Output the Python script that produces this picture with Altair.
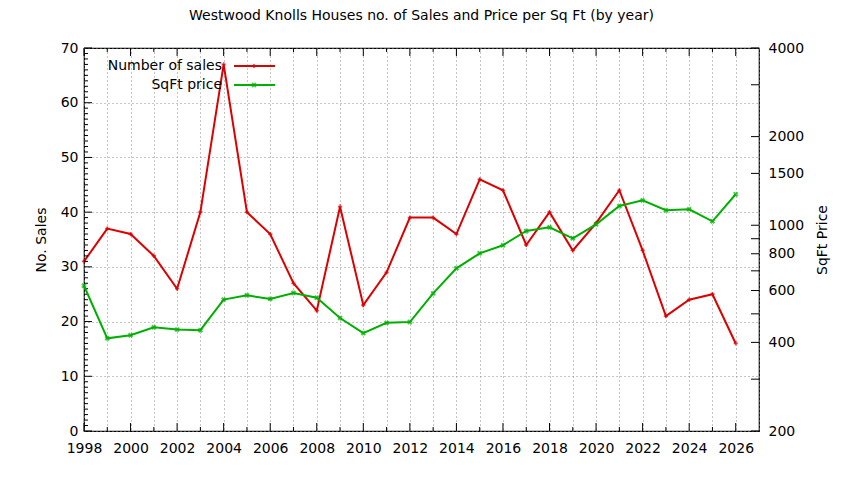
import altair as alt
import pandas as pd

# ---- data ----
years = list(range(1998, 2027))
sales = [31, 37, 36, 32, 26, 40, 67, 40, 36, 27, 22, 41, 23, 29, 39, 39, 36,
         46, 44, 34, 40, 33, 38, 44, 33, 21, 24, 25, 16]
price = [623, 413, 423, 450, 442, 440, 559, 578, 562, 589, 567, 484, 430, 466,
         469, 587, 714, 803, 855, 956, 984, 903, 1007, 1162, 1215, 1124, 1133,
         1031, 1274]
series_names = ["Number of sales", "SqFt price"]
title_text = "Westwood Knolls Houses no. of Sales and Price per Sq Ft (by year)"
x_domain = [1998, 2027]
left_domain = [0, 70]
right_domain = [200, 4000]
left_major = list(range(0, 71, 10))
left_minor = [v for v in range(0, 71) if v % 10 != 0]
x_major = list(range(1998, 2027, 2))
x_minor = list(range(1999, 2027, 2))
right_major = [200, 400, 600, 800, 1000, 1500, 2000, 4000]
right_minor = [300, 500, 700, 900, 3000]

df = pd.DataFrame({"year": years, "sales": sales, "price": price})

W, H = 675, 383
RED = "#dd0000"
GREEN = "#00b000"
FONT = "DejaVu Sans"
FS = 14

xs = alt.Scale(domain=x_domain, nice=False, zero=False)
yl = alt.Scale(domain=left_domain, nice=False, zero=False)
yr = alt.Scale(type="log", domain=right_domain, nice=False)

x_axis = alt.Axis(
    values=list(range(x_domain[0], x_domain[1] + 1)),
    labelExpr="datum.value % 2 == 0 && datum.value <= 2026 ? datum.label : ''",
    format="d", grid=True, gridDash=[1, 3], gridColor="#8c8c8c",
    ticks=False, domain=False, labelPadding=10, title=None,
    labelFlush=False, labelOverlap=False,
)
yl_axis = alt.Axis(
    values=left_major, grid=True, gridDash=[1, 3], gridColor="#8c8c8c",
    ticks=False, domain=False, labelPadding=6, title="No. Sales",
    titlePadding=12, labelOverlap=False,
)
yr_axis = alt.Axis(
    orient="right", values=right_major, format="d", grid=False,
    ticks=False, domain=False, labelPadding=9, title="SqFt Price",
    titleAngle=270, titlePadding=26, labelOverlap=False,
)

base = alt.Chart(df)

red_line = base.mark_line(color=RED, strokeWidth=2).encode(
    x=alt.X("year:Q", scale=xs, axis=x_axis),
    y=alt.Y("sales:Q", scale=yl, axis=yl_axis),
)
red_pts = base.mark_point(shape="cross", color=RED, filled=True, size=18).encode(
    x=alt.X("year:Q", scale=xs, axis=x_axis),
    y=alt.Y("sales:Q", scale=yl, axis=yl_axis),
)

# inward tick marks
def xticks(vals, length):
    d = pd.DataFrame({"year": vals})
    bot = alt.Chart(d).mark_rule(color="black").encode(
        x=alt.X("year:Q", scale=xs, axis=x_axis),
        y=alt.value(H), y2=alt.value(H - length))
    top = alt.Chart(d).mark_rule(color="black").encode(
        x=alt.X("year:Q", scale=xs, axis=x_axis),
        y=alt.value(0), y2=alt.value(length))
    return [bot, top]

def lticks(vals, length):
    d = pd.DataFrame({"sales": vals})
    return alt.Chart(d).mark_rule(color="black").encode(
        y=alt.Y("sales:Q", scale=yl, axis=yl_axis),
        x=alt.value(0), x2=alt.value(length))

def rticks(vals, length):
    d = pd.DataFrame({"price": vals})
    return alt.Chart(d).mark_rule(color="black").encode(
        y=alt.Y("price:Q", scale=yr, axis=yr_axis),
        x=alt.value(W), x2=alt.value(W - length))

# legend (gnuplot style: label then sample)
leg_layers = []
for i, (name, col, sz) in enumerate([(series_names[0], RED, 18), (series_names[1], GREEN, 30)]):
    yy = 18 + i * 19
    one = alt.Chart(pd.DataFrame({"label": [name]}))
    leg_layers.append(one.mark_text(
        align="right", baseline="middle", font=FONT, fontSize=FS, color="black"
    ).encode(x=alt.value(138), y=alt.value(yy), text="label:N"))
    leg_layers.append(one.mark_rule(color=col, strokeWidth=2).encode(
        x=alt.value(150), x2=alt.value(191), y=alt.value(yy)))
    leg_layers.append(one.mark_point(
        shape="cross", color=col, filled=True, size=sz,
        angle=45 if i == 1 else 0).encode(x=alt.value(170), y=alt.value(yy)))

left = alt.layer(
    red_line, red_pts,
    *xticks(x_major, 8), *xticks(x_minor, 4),
    lticks(left_major, 8), lticks(left_minor, 4),
)

green_line = base.mark_line(color=GREEN, strokeWidth=2).encode(
    x=alt.X("year:Q", scale=xs, axis=x_axis),
    y=alt.Y("price:Q", scale=yr, axis=yr_axis),
)
green_pts = base.mark_point(shape="cross", angle=45, color=GREEN, filled=True, size=30).encode(
    x=alt.X("year:Q", scale=xs, axis=x_axis),
    y=alt.Y("price:Q", scale=yr, axis=yr_axis),
)
right = alt.layer(green_line, green_pts, rticks(right_major, 8), rticks(right_minor, 8))

legend = alt.layer(*leg_layers)

chart = alt.layer(left, right, legend).resolve_scale(y="independent").properties(
    width=W, height=H,
    title=alt.TitleParams(title_text, fontSize=14, font=FONT, fontWeight="normal",
                          anchor="middle", offset=18, color="black"),
    autosize=alt.AutoSizeParams(type="none"),
    padding={"left": 76, "top": 40, "right": 77, "bottom": 41},
).configure_view(stroke="black", strokeWidth=1.2).configure_axis(
    labelFont=FONT, labelFontSize=14, labelColor="black",
    titleFont=FONT, titleFontSize=14, titleFontWeight="normal", titleColor="black",
)

chart.save("out.html", embed_options={"renderer": "svg", "actions": False})
